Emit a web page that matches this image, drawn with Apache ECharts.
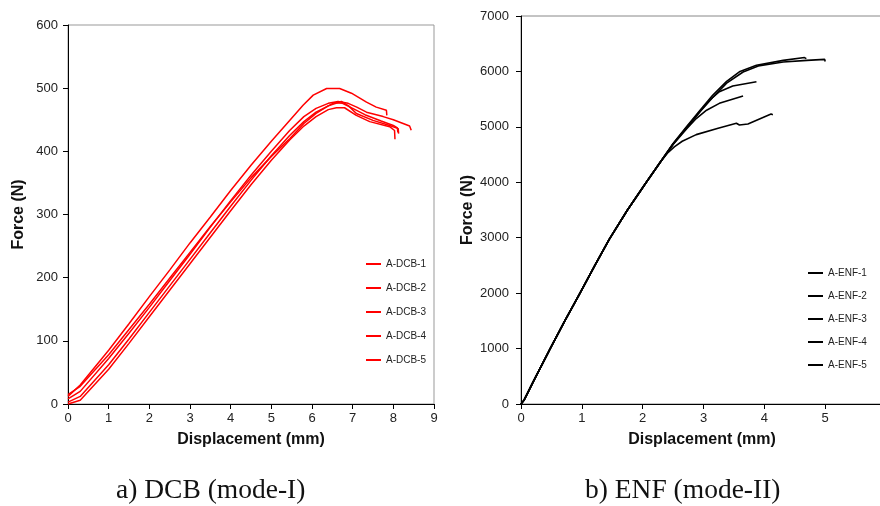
<!DOCTYPE html>
<html>
<head>
<meta charset="utf-8">
<script src="https://cdn.jsdelivr.net/npm/echarts@6/dist/echarts.min.js"></script>
<style>html,body{margin:0;padding:0;background:#fff}#c{width:880px;height:506px}</style>
</head>
<body>
<div id="c"></div>
<script>
// ---- DCB (mode-I): [displacement mm, force N]
const dcbNames = ['A-DCB-1','A-DCB-2','A-DCB-3','A-DCB-4','A-DCB-5'];
const dcb1 = [[0,12],[0.3,30],[1,85],[1.5,127],[2,170],[2.5,212],[3,255],[3.5,296],[4,338],[4.5,378],[5,416],[5.45,449],[5.78,473],[6.03,489],[6.36,499.5],[6.68,499.5],[6.97,492],[7.34,478],[7.58,470],[7.83,465],[7.84,457]];
const dcb2 = [[0,8],[0.3,20],[1,72],[1.5,112],[2,153],[2.5,195],[3,237],[3.5,280],[4,322],[4.5,362],[5,400],[5.45,433],[5.8,455],[6.1,468],[6.4,476],[6.64,479],[6.89,476],[7.1,470],[7.34,462],[7.75,455],[8.0,450],[8.24,444],[8.4,440],[8.44,433.5]];
const dcb3 = [[0,3],[0.3,12],[1,62],[1.5,103],[2,145],[2.5,187],[3,229],[3.5,271],[4,313],[4.5,354],[5,393],[5.45,425],[5.8,447],[6.1,462],[6.4,472],[6.72,479],[6.9,472],[7.09,460],[7.5,449],[7.91,441],[8.12,436],[8.13,428]];
const dcb4 = [[0,0],[0.3,6],[1,55],[1.5,96],[2,138],[2.5,180],[3,222],[3.5,264],[4,306],[4.5,347],[5,386],[5.45,418],[5.8,440],[6.1,455],[6.4,466],[6.6,469],[6.8,469],[7.09,457],[7.42,447],[7.91,439],[8.03,433],[8.04,419]];
const dcb5 = [[0,15],[0.3,28],[1,78],[1.5,118],[2,158],[2.5,199],[3,240],[3.5,281],[4,320],[4.5,358],[5,392],[5.45,420],[5.8,444],[6.1,460],[6.4,472],[6.55,477],[6.75,476],[7.0,468],[7.3,458],[7.7,448],[8.0,441],[8.1,437],[8.11,430]];

// ---- ENF (mode-II): [displacement mm, force N]
const enfNames = ['A-ENF-1','A-ENF-2','A-ENF-3','A-ENF-4','A-ENF-5'];
const enfBase = [[0,0],[0.05,70],[0.1,180],[0.2,400],[0.48,1000],[0.72,1500],[0.97,2000],[1.21,2490],[1.45,2970],[1.75,3500],[2.06,4000],[2.3,4380]];
const enf1Tail = [[2.5,4700],[2.72,5000],[2.95,5310],[3.15,5570],[3.38,5820],[3.6,6000],[3.87,6110],[4.31,6200],[4.66,6250],[4.69,6230]];
const enf2Tail = [[2.5,4690],[2.72,4980],[2.95,5280],[3.15,5530],[3.38,5790],[3.65,5990],[3.9,6100],[4.31,6170],[4.7,6200],[4.99,6218],[5.0,6180]];
const enf3Tail = [[2.5,4690],[2.72,4990],[2.95,5290],[3.1,5480],[3.26,5634],[3.48,5737],[3.87,5815]];
const enf4Tail = [[2.5,4680],[2.72,4960],[2.88,5150],[3.05,5300],[3.26,5424],[3.65,5557]];
const enf5Tail = [[2.42,4540],[2.52,4640],[2.65,4740],[2.88,4860],[3.24,4974],[3.54,5064],[3.56,5075],[3.59,5033],[3.73,5052],[4.11,5232],[4.14,5220]];

// ---- axis ticks
const dcbXTicks = {min:0, max:9, interval:1, values:[0,1,2,3,4,5,6,7,8,9]};
const dcbYTicks = {min:0, max:600, interval:100};
const enfXTicks = {min:0, max:5.95, interval:1, values:[0,1,2,3,4,5]};
const enfYTicks = {min:0, max:7000, interval:1000};

const FONT = 'Liberation Sans';
const dcbData = [dcb1, dcb2, dcb3, dcb4, dcb5];
const enfData = [enf1Tail, enf2Tail, enf3Tail, enf4Tail, enf5Tail].map(t => enfBase.concat(t));

function xAx(idx, t) {
  return {
    gridIndex: idx, type: 'value', min: t.min, max: t.max, interval: t.interval,
    name: 'Displacement (mm)', nameLocation: 'middle', nameGap: 28,
    nameTextStyle: {fontFamily: FONT, fontWeight: 'bold', fontSize: 16, color: '#111'},
    axisLine: {show: true, lineStyle: {color: '#000', width: 1}},
    axisTick: {show: true, inside: false, length: 5, lineStyle: {color: '#000'}, customValues: t.values},
    axisLabel: {fontFamily: FONT, fontSize: 13, color: '#222', margin: 8, customValues: t.values,
      formatter: v => String(v)},
    splitLine: {show: false}
  };
}
function yAx(idx, t, gap, margin) {
  return {
    gridIndex: idx, type: 'value', min: t.min, max: t.max, interval: t.interval,
    name: 'Force (N)', nameLocation: 'middle', nameGap: gap,
    nameTextStyle: {fontFamily: FONT, fontWeight: 'bold', fontSize: 16, color: '#111'},
    axisLine: {show: true, lineStyle: {color: '#000', width: 1}},
    axisTick: {show: true, inside: false, length: 5, lineStyle: {color: '#000'}},
    axisLabel: {fontFamily: FONT, fontSize: 13, color: '#222', margin: margin, formatter: v => String(v)},
    splitLine: {show: false}
  };
}

const series = [];
dcbNames.forEach((n, i) => series.push({
  name: n, type: 'line', xAxisIndex: 0, yAxisIndex: 0, data: dcbData[i],
  showSymbol: false, symbol: 'none', lineStyle: {color: '#ff0000', width: 1.5}, itemStyle: {color: '#ff0000'},
  animation: false
}));
enfNames.forEach((n, i) => series.push({
  name: n, type: 'line', xAxisIndex: 1, yAxisIndex: 1, data: enfData[i],
  showSymbol: false, symbol: 'none', lineStyle: {color: '#000', width: 1.6}, itemStyle: {color: '#000'},
  animation: false
}));

const legendCommon = {
  orient: 'vertical', icon: 'rect', itemWidth: 15, itemHeight: 2, padding: 0,
  textStyle: {fontFamily: FONT, fontSize: 10, color: '#222', lineHeight: 12}, selectedMode: false
};

const chart = echarts.init(document.getElementById('c'), null, {renderer: 'canvas'});
chart.setOption({
  animation: false,
  backgroundColor: '#fff',
  grid: [
    {left: 68, top: 25, width: 366, height: 379, show: true, borderColor: '#999', borderWidth: 1, outerBoundsMode: 'none', containLabel: false},
    {left: 521, top: 16, width: 362, height: 388, show: true, borderColor: '#888', borderWidth: 1, outerBoundsMode: 'none', containLabel: false}
  ],
  xAxis: [xAx(0, dcbXTicks), xAx(1, enfXTicks)],
  yAxis: [yAx(0, dcbYTicks, 41, 10), yAx(1, enfYTicks, 45, 12)],
  legend: [
    Object.assign({data: dcbNames, left: 366, top: 258, itemGap: 12}, legendCommon),
    Object.assign({data: enfNames, left: 808, top: 267, itemGap: 11}, legendCommon)
  ],
  graphic: [
    {type: 'text', left: 116, top: 477, style: {text: 'a) DCB (mode-I)', font: '27.5px "Liberation Serif"', fill: '#111'}},
    {type: 'text', left: 585, top: 477, style: {text: 'b) ENF (mode-II)', font: '27.5px "Liberation Serif"', fill: '#111'}}
  ],
  series: series
});
</script>
</body>
</html>
